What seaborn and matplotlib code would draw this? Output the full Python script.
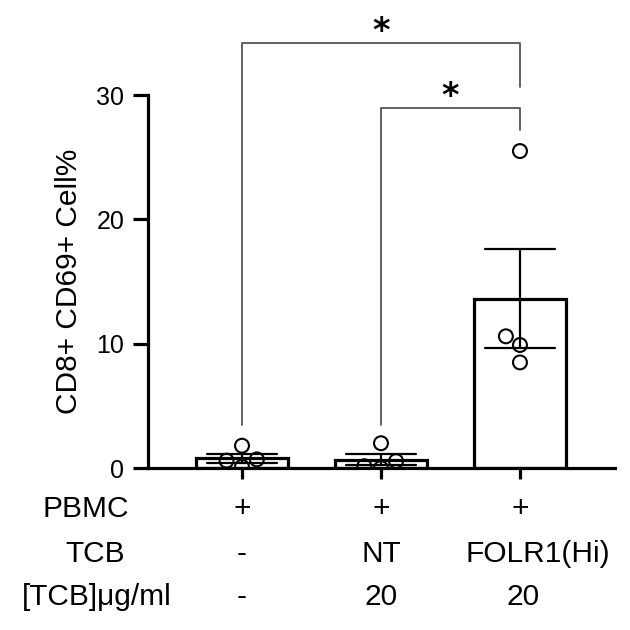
import numpy as np
import pandas as pd
import matplotlib
matplotlib.use("Agg")
import matplotlib.pyplot as plt
import matplotlib.transforms as mtransforms
import seaborn as sns

# ---- data ----
groups = ["g1", "g2", "g3"]
vals_g1 = [1.8, 0.7, 0.6, 0.1]
vals_g2 = [2.0, 0.56, 0.15, 0.0]
vals_g3 = [25.5, 10.6, 9.9, 8.5]
row_names = ["PBMC", "TCB", "[TCB]μg/ml"]
row_pbmc = ["+", "+", "+"]
row_tcb = ["-", "NT", "FOLR1(Hi)"]
row_conc = ["-", "20", "20"]
y_ticks = [0, 10, 20, 30]
y_label = "CD8+ CD69+ Cell%"
# significance brackets: (x1, x2, y, left drop end, right drop end, label, label y)
brackets = [(0, 2, 34.2, 3.5, 30.65, "*", 35.1),
            (1, 2, 29.0, 3.5, 27.2, "*", 29.9)]

df = pd.DataFrame({
    "group": np.repeat(groups, 4),
    "value": vals_g1 + vals_g2 + vals_g3,
})

sns.set_theme(style="ticks")
plt.rcParams["font.family"] = ["Liberation Sans", "DejaVu Sans"]
for k in ["text.color", "axes.labelcolor", "xtick.color", "ytick.color", "axes.edgecolor"]:
    plt.rcParams[k] = "black"

fig = plt.figure(figsize=(6.3, 6.3), dpi=100)
ax = fig.add_axes([0.235, 0.257, 0.741, 0.592])

sns.barplot(data=df, x="group", y="value", order=groups, errorbar="se",
            color="white", edgecolor="black", linewidth=2.3, width=0.66,
            capsize=0.5, err_kws={"color": "black", "linewidth": 1.6},
            ax=ax, zorder=2)
sns.swarmplot(data=df, x="group", y="value", order=groups, size=10,
              color="white", edgecolor="black", linewidth=1.5, ax=ax, zorder=4)
for coll in ax.collections:
    coll.set_facecolor("none")
    coll.set_edgecolor("black")
    coll.set_linewidth(1.5)

ax.set_xlim(-0.676, 2.683)
ax.set_ylim(0, 30)
ax.set_yticks(y_ticks)
ax.set_xticks(range(3))
ax.set_xticklabels([])
ax.set_xlabel("")
ax.set_ylabel(y_label, fontsize=21.5, labelpad=10)
ax.tick_params(axis="y", labelsize=18, length=11, width=2.3, direction="out", pad=6)
ax.tick_params(axis="x", length=8, width=2.3, direction="out")
sns.despine(ax=ax)
for s in ["left", "bottom"]:
    ax.spines[s].set_linewidth(2.3)

# brackets
for x1, x2, y, yl, yr, lab, ly in brackets:
    ax.plot([x1, x1, x2, x2], [yl, y, y, yr], color="#555555", lw=1.3,
            clip_on=False, zorder=1)
    ax.text((x1 + x2) / 2, ly, lab, ha="center", va="center",
            fontsize=24, fontweight="bold", clip_on=False,
            family=["DejaVu Sans"])

# condition table below
trans = mtransforms.blended_transform_factory(ax.transData, fig.transFigure)
row_y = [1 - 517 / 630, 1 - 562 / 630, 1 - 605 / 630]
name_x = [86 / 630, 95 / 630, 97 / 630]
rows = [row_pbmc, row_tcb, row_conc]
for name, nx, ry, row in zip(row_names, name_x, row_y, rows):
    fig.text(nx, ry, name, ha="center", va="baseline", fontsize=21.5)
    for i, t in enumerate(row):
        xo = 0.13 if t == "FOLR1(Hi)" else (0.02 if (i == 2 and t == "20") else 0)
        ax.text(i + xo, ry, t, ha="center", va="baseline", fontsize=21.5,
                transform=trans, clip_on=False)

fig.savefig("out.png", dpi=100)
